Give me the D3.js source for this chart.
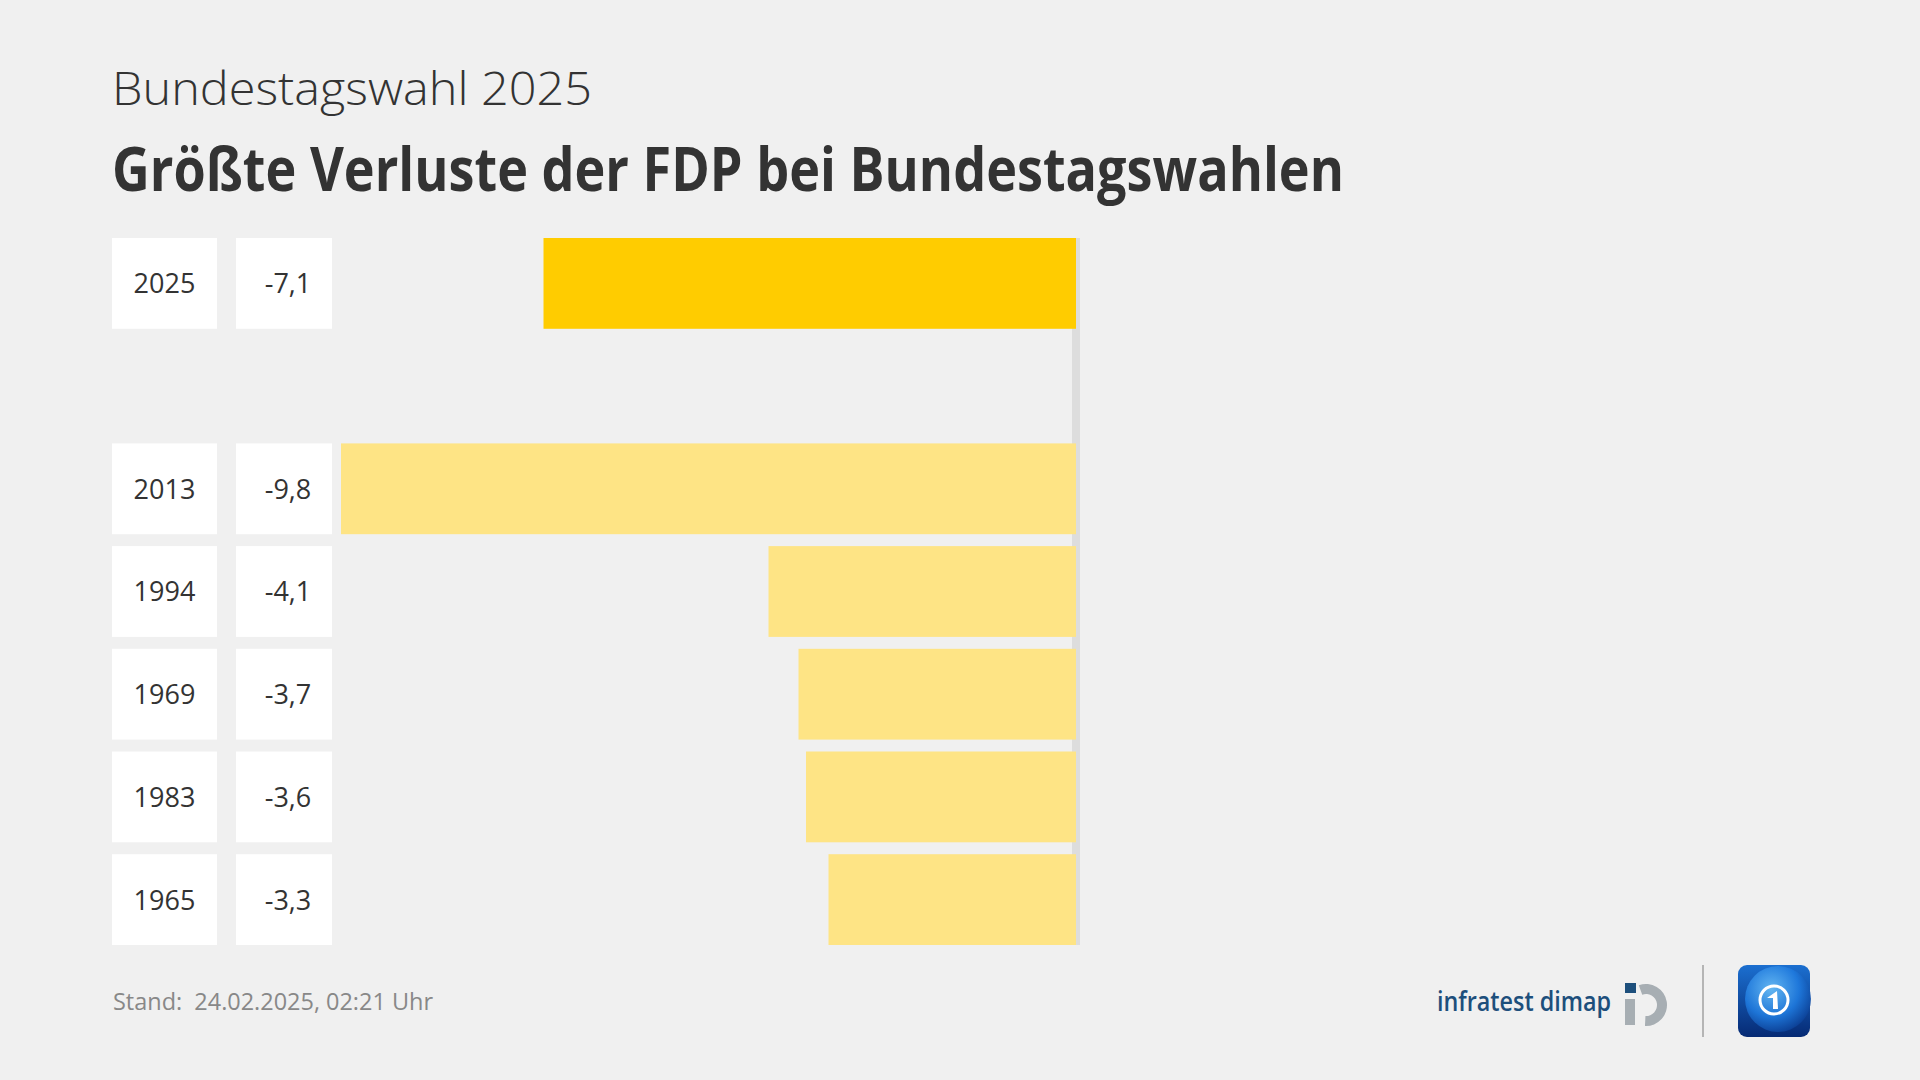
<!DOCTYPE html>
<html>
<head>
<meta charset="utf-8">
<script src="https://cdn.jsdelivr.net/npm/d3@7"></script>
<style>
  html, body { margin: 0; padding: 0; background: #f0f0f0; }
  svg { display: block; }
</style>
</head>
<body>
<svg id="chart" width="1920" height="1080"></svg>
<script>
// ---- data ----
const years = ["2025", "2013", "1994", "1969", "1983", "1965"];
const values = [-7.1, -9.8, -4.1, -3.7, -3.6, -3.3];
const valueLabels = ["-7,1", "-9,8", "-4,1", "-3,7", "-3,6", "-3,3"];
const highlight = ["2025"];
const subtitle = "Bundestagswahl 2025";
const title = "Größte Verluste der FDP bei Bundestagswahlen";
const footer = "Stand:  24.02.2025, 02:21 Uhr";

const svg = d3.select("#chart");
const font = "'Open Sans', 'Noto Sans', sans-serif";

svg.append("rect").attr("width", 1920).attr("height", 1080).attr("fill", "#f0f0f0");

// headings
svg.append("text").attr("x", 112).attr("y", 105)
  .attr("font-family", font).attr("font-size", 46).attr("font-weight", 300)
  .attr("fill", "#333").attr("textLength", 480).attr("lengthAdjust", "spacingAndGlyphs")
  .text(subtitle);
svg.append("text").attr("x", 112).attr("y", 191)
  .attr("font-family", font).attr("font-size", 60).attr("font-weight", 700)
  .attr("fill", "#333").attr("textLength", 1232).attr("lengthAdjust", "spacingAndGlyphs")
  .text(title);

// rows: spacer after the first (current) row
const rowKeys = [years[0], "_gap", ...years.slice(1)];
const y = d3.scaleBand().domain(rowKeys).range([238, 945]).paddingInner(0.116).paddingOuter(0);
const x = d3.scaleLinear().domain([d3.min(values), 0]).range([341, 1076]);

const data = years.map((yr, i) => ({ year: yr, value: values[i], label: valueLabels[i] }));

// zero axis line
svg.append("rect")
  .attr("x", x(0) - 4).attr("width", 8)
  .attr("y", y(rowKeys[0])).attr("height", y(rowKeys[rowKeys.length - 1]) + y.bandwidth() - y(rowKeys[0]))
  .attr("fill", "#dddddd");

const rows = svg.append("g").selectAll("g").data(data).join("g")
  .attr("transform", d => `translate(0,${y(d.year)})`);

// year box
rows.append("rect").attr("x", 112).attr("width", 105).attr("height", y.bandwidth()).attr("fill", "#ffffff");
rows.append("text").attr("x", 164.5).attr("y", y.bandwidth() / 2 + 10)
  .attr("text-anchor", "middle").attr("font-family", font).attr("font-size", 27)
  .attr("fill", "#333").text(d => d.year);

// value box
rows.append("rect").attr("x", 236).attr("width", 96).attr("height", y.bandwidth()).attr("fill", "#ffffff");
rows.append("text").attr("x", 288).attr("y", y.bandwidth() / 2 + 10)
  .attr("text-anchor", "middle").attr("font-family", font).attr("font-size", 27)
  .attr("fill", "#333").text(d => d.label);

// bars
rows.append("rect")
  .attr("x", d => x(d.value)).attr("width", d => x(0) - x(d.value))
  .attr("height", y.bandwidth())
  .attr("fill", d => highlight.includes(d.year) ? "#ffcc00" : "#fee485");

// footer
svg.append("text").attr("x", 113).attr("y", 1010)
  .attr("font-family", font).attr("font-size", 24).attr("fill", "#888")
  .style("white-space", "pre")
  .attr("textLength", 320).attr("lengthAdjust", "spacingAndGlyphs")
  .text(footer);

// infratest dimap logo
svg.append("text").attr("x", 1437).attr("y", 1011)
  .attr("font-family", font).attr("font-size", 27).attr("font-weight", 600).attr("fill", "#1d4f7c")
  .attr("textLength", 174).attr("lengthAdjust", "spacingAndGlyphs")
  .text("infratest dimap");
const logo = svg.append("g").attr("transform", "translate(1646,1005)");
logo.append("path")
  .attr("d", d3.arc().innerRadius(11).outerRadius(21).startAngle(-0.35).endAngle(Math.PI + 0.05)())
  .attr("fill", "#a7aeb3");
logo.append("rect").attr("x", -21).attr("y", -6).attr("width", 10).attr("height", 26).attr("fill", "#a7aeb3");
logo.append("rect").attr("x", -21).attr("y", -22).attr("width", 11).attr("height", 10).attr("fill", "#1d4f7c");

// separator
svg.append("rect").attr("x", 1702).attr("y", 965).attr("width", 2).attr("height", 72).attr("fill", "#b5b5b5");

// tagesschau icon
const defs = svg.append("defs");
const g1 = defs.append("linearGradient").attr("id", "tsbg").attr("x1", 0).attr("y1", 0).attr("x2", 0).attr("y2", 1);
g1.append("stop").attr("offset", 0).attr("stop-color", "#1b6fd0");
g1.append("stop").attr("offset", 1).attr("stop-color", "#062a74");
const g2 = defs.append("radialGradient").attr("id", "tsglobe").attr("cx", 0.4).attr("cy", 0.35).attr("r", 0.7);
g2.append("stop").attr("offset", 0).attr("stop-color", "#6cc0f8");
g2.append("stop").attr("offset", 0.6).attr("stop-color", "#1f7ade");
g2.append("stop").attr("offset", 1).attr("stop-color", "#0b3d92");
const ts = svg.append("g").attr("transform", "translate(1738,965)");
ts.append("rect").attr("width", 72).attr("height", 72).attr("rx", 9).attr("fill", "url(#tsbg)");
ts.append("circle").attr("cx", 40).attr("cy", 34).attr("r", 33).attr("fill", "url(#tsglobe)").attr("opacity", 0.9);
ts.append("circle").attr("cx", 36).attr("cy", 35).attr("r", 14).attr("fill", "none").attr("stroke", "#ffffff").attr("stroke-width", 3);
ts.append("path").attr("d", "M29,33 L39,26 L40,44 L35,44 L35,33 Z").attr("fill", "#ffffff");
</script>
</body>
</html>
